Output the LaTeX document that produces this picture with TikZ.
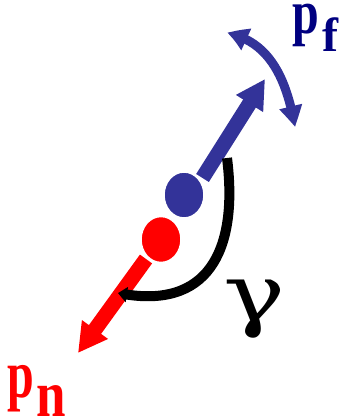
\documentclass[tikz,border=0pt]{standalone}
\usepackage{fontspec}
\newfontfamily\labfont{Liberation Serif}
\newfontfamily\greekfont{DejaVu Serif}
\usetikzlibrary{arrows.meta,bending,shapes.geometric}
\definecolor{ballblue}{RGB}{51,51,153}
\definecolor{labnavy}{RGB}{0,0,128}
\begin{document}
\begin{tikzpicture}[x=1pt,y=1pt]
    \tikzset{ball/.style={ellipse, inner sep=0pt, minimum width=40pt, minimum height=46pt, draw=white, line width=1.5pt},
        fat/.style={line width=15pt, -{Triangle[width=30pt,length=29pt]}},
        swing/.style={line width=9pt, {Triangle[width=22pt,length=21pt,bend]}-{Triangle[width=22pt,length=21pt,bend]}},
        lab/.style={inner sep=0pt, anchor=base west, font=\labfont\fontsize{48}{48}\selectfont\bfseries}}
    \useasboundingbox (0,0) rectangle (352,417);
    \coordinate (ftail) at (202.5,239);
    \coordinate (ftip) at (265,338);
    \coordinate (ntail) at (146,158);
    \coordinate (ntip) at (78,64);
    \coordinate (sa) at (227,384);
    \coordinate (sb) at (295,290);
    \coordinate (ga) at (227,259);
    \coordinate (gb) at (118,124);
    \draw[fat, ballblue] (ftail) -- (ftip);
    \draw[fat, red] (ntail) -- (ntip);
    \draw[swing, ballblue] (sa) to[out=-11,in=100] (sb);
    \draw[line width=10pt, -{Triangle[width=15pt,length=9pt,bend]}] (ga) .. controls (238,172) and (212,105) .. (gb);
    \node[ball, fill=ballblue] (fball) at (184,222) {};
    \node[ball, fill=red] (nball) at (161,177.5) {};
    \node[lab, text=labnavy] (pflab) at (292.3,383.5) {\scalebox{1}[1.3]{p}\kern3pt\raisebox{-18.5pt}{f}};
    \node[lab, text=red] (pnlab) at (7,19.8) {\scalebox{1}[1.42]{p}\kern3pt\raisebox{-18.8pt}{\fontsize{53}{53}\selectfont\scalebox{1}[1.24]{n}}};
    \node[inner sep=0pt, anchor=base, font=\greekfont\fontsize{80}{80}\selectfont] (glab) at (255,95.6) {\scalebox{1.3}[1]{γ}};
\end{tikzpicture}
\end{document}
